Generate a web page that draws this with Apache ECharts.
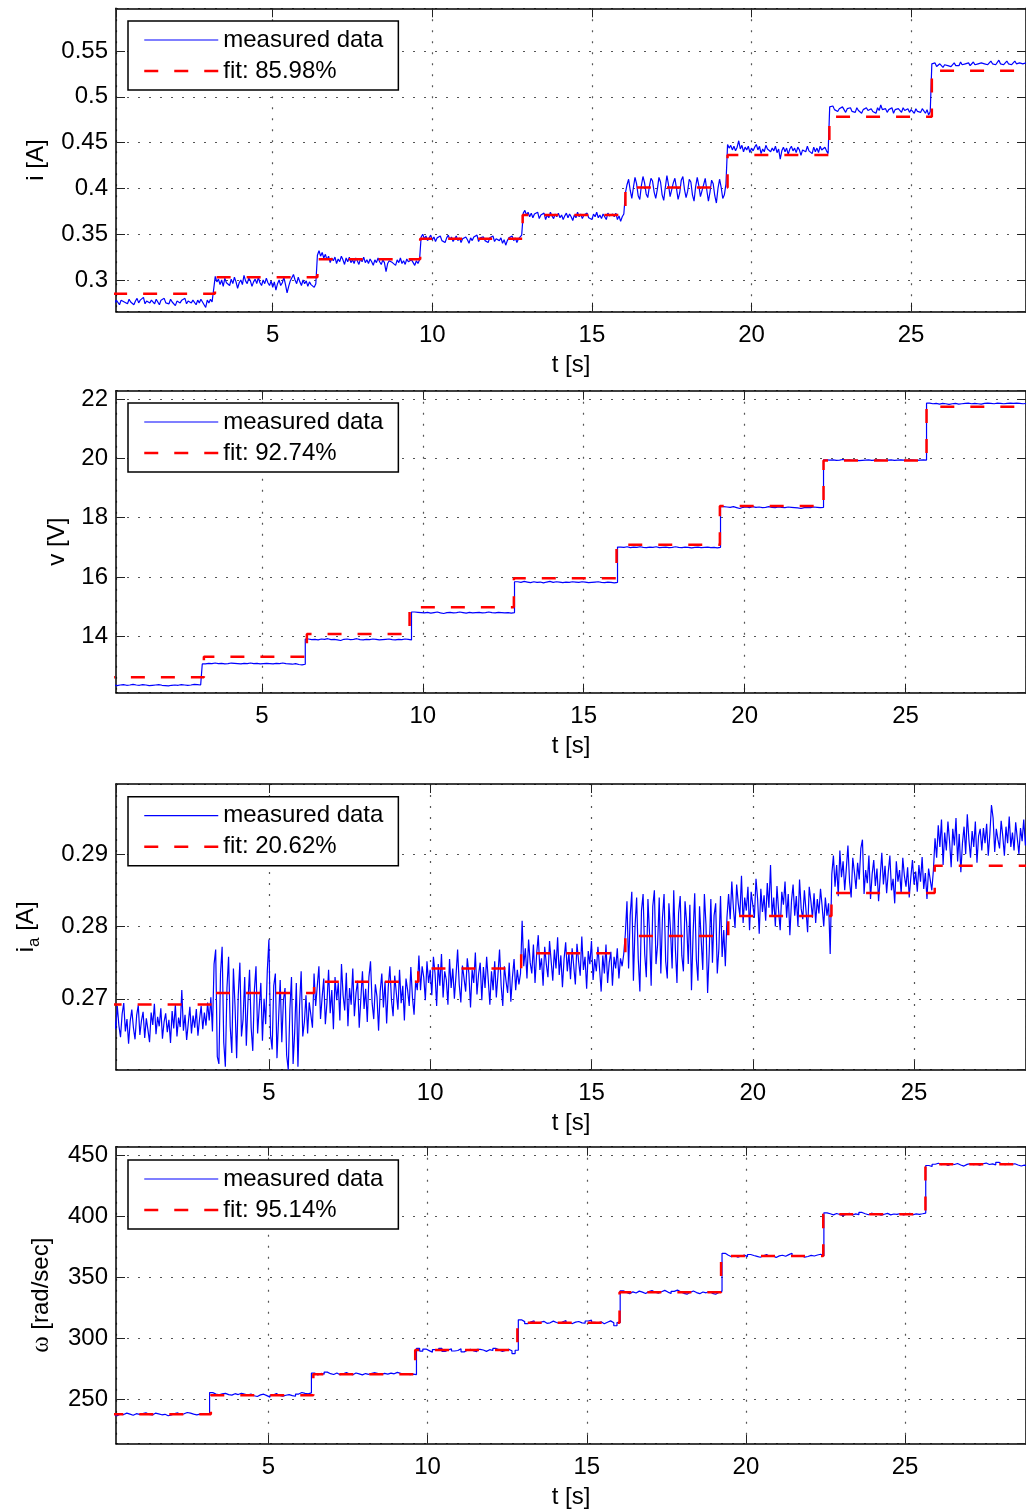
<!DOCTYPE html>
<html><head><meta charset="utf-8">
<script src="https://cdn.jsdelivr.net/npm/echarts@6/dist/echarts.min.js"></script>
<style>html,body{margin:0;padding:0;background:#fff;overflow:hidden}#c{width:1026px;height:1512px}</style>
</head><body><div id="c"></div><script>
// sampling grids of the measured signals (s)
const T_START = 0;
const T_STEP_FINE = 0.05;   // panels 1 and 3
const T_STEP_COARSE = 0.1;  // panels 2 and 4

// ---- panel 1: current i [A]  (sampled every 0.05 s)
const iMeasured = [
0.279,0.275,0.278,0.276,0.273,0.278,0.280,0.276,0.277,0.274,0.279,0.276,0.278,0.273,0.277,0.280,
0.275,0.278,0.276,0.281,0.274,0.277,0.279,0.275,0.278,0.276,0.274,0.279,0.277,0.273,0.278,0.276,
0.280,0.275,0.277,0.274,0.279,0.276,0.278,0.272,0.277,0.279,0.275,0.278,0.276,0.280,0.274,0.277,
0.279,0.275,0.278,0.276,0.273,0.278,0.275,0.279,0.276,0.274,0.270,0.278,0.275,0.279,0.276,0.278,
0.304,0.298,0.301,0.295,0.300,0.293,0.302,0.297,0.299,0.294,0.301,0.296,0.303,0.298,0.291,0.297,
0.300,0.295,0.305,0.299,0.296,0.302,0.299,0.293,0.298,0.301,0.296,0.303,0.297,0.294,0.300,0.296,
0.302,0.297,0.294,0.299,0.292,0.298,0.289,0.296,0.300,0.294,0.297,0.303,0.295,0.286,0.293,0.299,
0.297,0.306,0.300,0.296,0.303,0.298,0.294,0.300,0.296,0.299,0.293,0.298,0.295,0.297,0.292,0.296,
0.327,0.332,0.326,0.330,0.324,0.328,0.322,0.326,0.319,0.324,0.321,0.325,0.318,0.323,0.320,0.326,
0.322,0.317,0.324,0.320,0.325,0.319,0.322,0.318,0.324,0.321,0.317,0.323,0.320,0.325,0.319,0.322,
0.318,0.323,0.320,0.316,0.322,0.319,0.324,0.320,0.317,0.322,0.319,0.309,0.318,0.321,0.323,0.319,
0.320,0.316,0.322,0.319,0.324,0.318,0.321,0.317,0.323,0.320,0.318,0.322,0.319,0.316,0.321,0.318,
0.322,
0.347,0.350,0.345,0.348,0.343,0.346,0.349,0.344,0.347,0.342,0.346,0.344,0.348,0.343,0.345,0.341,
0.346,0.349,0.344,0.347,0.342,0.345,0.348,0.343,0.346,0.341,0.345,0.343,0.347,0.344,0.340,0.346,
0.343,0.347,0.345,0.349,0.342,0.346,0.344,0.347,0.343,0.345,0.341,0.346,0.344,0.348,0.342,0.345,
0.347,0.343,0.346,0.340,0.344,0.338,0.343,0.346,0.344,0.348,0.343,0.346,0.341,0.345,0.347,0.349,
0.373,0.376,0.371,0.374,0.369,0.373,0.368,0.372,0.370,0.374,0.367,0.371,0.369,0.373,0.366,0.371,
0.368,0.374,0.370,0.367,0.372,0.369,0.373,0.368,0.371,0.366,0.370,0.373,0.368,0.372,0.369,0.365,
0.371,0.368,0.374,0.369,0.372,0.367,0.371,0.369,0.373,0.368,0.370,0.366,0.372,0.369,0.374,0.368,
0.371,0.367,0.372,0.369,0.366,0.373,0.370,0.368,0.372,0.369,0.373,0.366,0.370,0.364,0.369,0.372,
0.395,0.404,0.410,0.398,0.389,0.401,0.412,0.405,0.392,0.388,0.403,0.413,0.406,0.394,0.390,0.402,
0.411,0.408,0.396,0.389,0.399,0.412,0.407,0.393,0.387,0.401,0.414,0.404,0.391,0.392,0.406,0.411,
0.400,0.388,0.395,0.409,0.413,0.399,0.390,0.397,0.410,0.407,0.393,0.386,0.402,0.412,0.403,0.391,
0.389,0.404,0.411,0.398,0.386,0.396,0.409,0.405,0.392,0.384,0.400,0.410,0.401,0.389,0.393,0.405,
0.448,0.444,0.447,0.442,0.446,0.441,0.445,0.452,0.443,0.447,0.440,0.445,0.442,0.446,0.439,0.444,
0.441,0.445,0.448,0.442,0.446,0.438,0.443,0.440,0.447,0.443,0.445,0.440,0.444,0.441,0.446,0.439,
0.443,0.432,0.441,0.445,0.440,0.444,0.437,0.443,0.446,0.441,0.444,0.439,0.445,0.442,0.436,0.442,
0.444,0.440,0.446,0.441,0.443,0.438,0.445,0.440,0.444,0.439,0.446,0.442,0.440,0.445,0.441,0.438,
0.489,0.487,0.490,0.486,0.488,0.484,0.487,0.485,0.489,0.486,0.483,0.487,0.485,0.488,0.484,0.486,
0.483,0.488,0.485,0.487,0.482,0.486,0.484,0.488,0.485,0.483,0.487,0.484,0.486,0.482,0.488,0.485,
0.491,0.486,0.484,0.487,0.483,0.486,0.485,0.488,0.482,0.486,0.484,0.487,0.485,0.483,0.488,0.485,
0.484,0.487,0.483,0.486,0.485,0.482,0.487,0.484,0.486,0.483,0.487,0.485,0.482,0.486,0.480,0.484,
0.536,0.534,0.537,0.533,0.535,0.536,0.534,0.532,0.535,0.537,0.534,0.536,0.533,0.535,0.537,0.534,
0.536,0.534,0.538,0.535,0.533,0.536,0.535,0.537,0.534,0.536,0.538,0.535,0.537,0.536,0.534,0.537,
0.539,0.536,0.538,0.535,0.537,0.539,0.536,0.538,0.535,0.537,0.540,0.536,0.538,0.535,0.537,0.539,
0.536,0.538,0.535,0.537,0.539,0.536,0.538,0.537,0.539,0.536,0.538,0.537,0.540,0.536,0.538,0.537
];
const iFitTimes = [0, 3.19, 6.40, 9.62, 12.83, 16.05, 19.25, 22.44, 25.65, 28.8];
const iFitLevels = [0.285, 0.303, 0.3226, 0.345, 0.371, 0.401, 0.4365, 0.4783, 0.5285];

// ---- panel 2: voltage v [V]  (sampled every 0.1 s)
const vMeasured = [
12.37,12.35,12.36,12.38,12.36,12.34,12.36,12.37,12.35,12.36,12.38,12.36,12.35,12.37,12.36,12.34,12.35,12.36,12.37,12.35,12.34,12.33,12.35,12.36,12.35,12.37,12.36,12.35,12.36,12.38,12.37,12.36,
13.07,13.09,13.08,13.10,13.08,13.09,13.07,13.08,13.10,13.09,13.08,13.07,13.09,13.08,13.10,13.08,13.09,13.07,13.08,13.09,13.08,13.07,13.09,13.08,13.10,13.08,13.07,13.06,13.08,13.05,13.04,13.06,
13.91,13.89,13.90,13.88,13.91,13.90,13.92,13.89,13.90,13.88,13.86,13.90,13.91,13.89,13.90,13.92,13.89,13.88,13.90,13.89,13.91,13.90,13.88,13.89,13.90,13.91,13.89,13.88,13.90,13.89,13.91,13.90,13.88,
14.82,14.81,14.80,14.79,14.81,14.78,14.80,14.82,14.79,14.77,14.80,14.81,14.79,14.80,14.82,14.80,14.78,14.81,14.79,14.80,14.81,14.79,14.80,14.82,14.80,14.79,14.81,14.80,14.79,14.80,14.78,14.80,
15.84,15.82,15.85,15.83,15.81,15.84,15.82,15.83,15.80,15.83,15.85,15.82,15.84,15.83,15.81,15.83,15.82,15.84,15.83,15.82,15.84,15.83,15.81,15.82,15.83,15.84,15.82,15.81,15.83,15.82,15.80,15.82,
17.01,17.00,17.02,16.99,17.01,17.00,17.02,17.00,16.99,17.01,17.00,17.02,16.99,17.00,17.01,16.99,17.00,17.02,17.00,16.99,17.01,17.00,16.98,17.00,17.01,16.99,17.00,17.01,16.99,17.00,16.98,17.00,
18.37,18.36,18.35,18.37,18.34,18.31,18.35,18.36,18.34,18.37,18.35,18.36,18.34,18.35,18.37,18.35,18.34,18.36,18.35,18.34,18.36,18.35,18.34,18.33,18.31,18.34,18.35,18.34,18.36,18.35,18.34,18.35,
19.95,19.94,19.95,19.93,19.94,19.96,19.94,19.95,19.93,19.94,19.92,19.93,19.94,19.95,19.93,19.94,19.95,19.94,19.93,19.94,19.95,19.93,19.94,19.95,19.94,19.93,19.95,19.94,19.93,19.94,19.95,19.94,
21.86,21.84,21.85,21.83,21.85,21.84,21.82,21.84,21.85,21.83,21.84,21.85,21.86,21.84,21.85,21.84,21.83,21.85,21.86,21.85,21.84,21.86,21.85,21.84,21.85,21.86,21.85,21.86,21.85,21.84,21.85,21.86
];
const vFitTimes = [0, 3.20, 6.40, 9.59, 12.83, 16.02, 19.23, 22.45, 25.65, 28.8];
const vFitLevels = [12.62, 13.31, 14.08, 14.98, 15.96, 17.09, 18.39, 19.93, 21.74];

// ---- panel 3: armature current i_a [A]  (sampled every 0.05 s)
const iaMeasured = [
0.2652,0.2684,0.2667,0.2641,0.2676,0.2658,0.2690,0.2663,0.2647,0.2679,0.2694,0.2655,0.2672,0.2638,0.2669,0.2685,
0.2660,0.2644,0.2677,0.2691,0.2650,0.2670,0.2682,0.2646,0.2673,0.2657,0.2640,0.2681,0.2664,0.2693,0.2651,0.2675,
0.2662,0.2687,0.2645,0.2668,0.2680,0.2654,0.2671,0.2639,0.2683,0.2659,0.2692,0.2648,0.2674,0.2661,0.2712,0.2656,
0.2678,0.2643,0.2666,0.2689,0.2652,0.2677,0.2660,0.2686,0.2649,0.2672,0.2690,0.2658,0.2681,0.2663,0.2695,0.2670,
0.2702,0.2655,0.2748,0.2768,0.2620,0.2610,0.2735,0.2772,0.2640,0.2606,0.2715,0.2758,0.2662,0.2625,0.2742,0.2690,
0.2618,0.2705,0.2750,0.2648,0.2672,0.2730,0.2635,0.2695,0.2740,0.2660,0.2628,0.2712,0.2745,0.2652,0.2688,0.2722,
0.2642,0.2700,0.2665,0.2738,0.2782,0.2650,0.2630,0.2718,0.2735,0.2618,0.2672,0.2726,0.2640,0.2698,0.2715,0.2622,
0.2602,0.2685,0.2730,0.2610,0.2655,0.2722,0.2606,0.2690,0.2738,0.2648,0.2668,0.2705,0.2652,0.2695,0.2678,0.2660,
0.2735,0.2690,0.2718,0.2745,0.2672,0.2702,0.2728,0.2665,0.2695,0.2740,0.2680,0.2712,0.2658,0.2730,0.2698,0.2722,
0.2670,0.2748,0.2705,0.2684,0.2736,0.2662,0.2715,0.2692,0.2742,0.2676,0.2708,0.2725,0.2660,0.2700,0.2738,0.2686,
0.2714,0.2668,0.2730,0.2752,0.2694,0.2672,0.2720,0.2703,0.2656,0.2710,0.2735,0.2688,0.2724,0.2666,0.2716,0.2745,
0.2698,0.2676,0.2732,0.2708,0.2685,0.2740,0.2694,0.2718,0.2670,0.2728,0.2712,0.2690,0.2744,0.2702,0.2678,0.2725,
0.2712,
0.2760,0.2712,0.2745,0.2730,0.2698,0.2752,0.2722,0.2740,0.2705,0.2758,0.2735,0.2690,0.2748,0.2718,0.2762,0.2702,
0.2738,0.2726,0.2692,0.2755,0.2715,0.2742,0.2700,0.2732,0.2768,0.2720,0.2695,0.2746,0.2728,0.2710,0.2756,0.2735,
0.2688,0.2740,0.2722,0.2764,0.2706,0.2734,0.2750,0.2698,0.2744,0.2715,0.2758,0.2726,0.2692,0.2738,0.2712,0.2752,
0.2702,0.2733,0.2768,0.2718,0.2690,0.2745,0.2725,0.2708,0.2750,0.2696,0.2730,0.2755,0.2712,0.2740,0.2720,0.2735,
0.2808,0.2745,0.2770,0.2728,0.2782,0.2750,0.2735,0.2775,0.2722,0.2762,0.2788,0.2740,0.2756,0.2718,0.2772,0.2748,
0.2730,0.2780,0.2752,0.2725,0.2768,0.2742,0.2785,0.2733,0.2760,0.2716,0.2755,0.2778,0.2738,0.2764,0.2727,0.2770,
0.2745,0.2720,0.2776,0.2752,0.2732,0.2786,0.2740,0.2758,0.2714,0.2766,0.2748,0.2780,0.2726,0.2755,0.2738,0.2772,
0.2742,0.2710,0.2760,0.2735,0.2775,0.2722,0.2750,0.2765,0.2718,0.2758,0.2742,0.2770,0.2728,0.2756,0.2745,0.2762,
0.2790,0.2835,0.2742,0.2815,0.2848,0.2725,0.2800,0.2840,0.2755,0.2710,0.2822,0.2845,0.2762,0.2730,0.2838,0.2790,
0.2718,0.2828,0.2850,0.2748,0.2775,0.2840,0.2735,0.2812,0.2845,0.2752,0.2728,0.2832,0.2795,0.2742,0.2850,0.2770,
0.2722,0.2818,0.2842,0.2760,0.2738,0.2835,0.2805,0.2748,0.2830,0.2712,0.2790,0.2846,0.2755,0.2725,0.2828,0.2782,
0.2740,0.2845,0.2802,0.2708,0.2765,0.2838,0.2750,0.2815,0.2832,0.2735,0.2770,0.2842,0.2758,0.2795,0.2745,0.2812,
0.2845,0.2810,0.2862,0.2825,0.2798,0.2858,0.2832,0.2815,0.2870,0.2805,0.2840,0.2822,0.2855,0.2795,0.2848,0.2830,
0.2812,0.2866,0.2838,0.2790,0.2852,0.2820,0.2843,0.2808,0.2860,0.2826,0.2885,0.2815,0.2840,0.2800,0.2856,0.2822,
0.2795,0.2848,0.2830,0.2862,0.2812,0.2845,0.2788,0.2835,0.2858,0.2815,0.2842,0.2800,0.2865,0.2825,0.2810,0.2850,
0.2822,0.2792,0.2855,0.2836,0.2812,0.2846,0.2805,0.2838,0.2818,0.2852,0.2828,0.2800,0.2840,0.2815,0.2832,0.2762,
0.2872,0.2898,0.2855,0.2885,0.2842,0.2905,0.2868,0.2890,0.2850,0.2880,0.2912,0.2862,0.2840,0.2895,0.2875,0.2852,
0.2888,0.2865,0.2908,0.2920,0.2845,0.2878,0.2860,0.2898,0.2838,0.2872,0.2892,0.2856,0.2880,0.2835,0.2868,0.2902,
0.2858,0.2884,0.2846,0.2875,0.2898,0.2850,0.2866,0.2832,0.2890,0.2862,0.2878,0.2845,0.2895,0.2870,0.2855,0.2882,
0.2840,0.2868,0.2892,0.2858,0.2876,0.2848,0.2885,0.2862,0.2896,0.2852,0.2874,0.2838,0.2880,0.2865,0.2850,0.2878,
0.2922,0.2895,0.2940,0.2910,0.2948,0.2885,0.2930,0.2905,0.2945,0.2918,0.2882,0.2935,0.2912,0.2950,0.2890,0.2928,
0.2875,0.2915,0.2938,0.2900,0.2955,0.2920,0.2895,0.2932,0.2910,0.2945,0.2888,0.2925,0.2935,0.2905,0.2936,0.2915,
0.2942,0.2898,0.2928,0.2968,0.2950,0.2903,0.2935,0.2920,0.2908,0.2946,0.2925,0.2898,0.2938,0.2915,0.2952,0.2910,
0.2930,0.2905,0.2944,0.2922,0.2900,0.2936,0.2918,0.2948,0.2912,0.2932,0.2905,0.2940,0.2925,0.2915,0.2938,0.2920
];
const iaFitTimes = [0, 3.25, 6.40, 9.63, 12.82, 16.05, 19.24, 22.44, 25.64, 28.8];
const iaFitLevels = [0.2692, 0.2708, 0.27235, 0.2742, 0.2763, 0.2787, 0.28144, 0.28462, 0.2884];

// ---- panel 4: angular speed omega [rad/sec]  (sampled every 0.1 s)
const wMeasured = [
237.5,238.8,236.9,238.2,237.8,239.0,238.1,237.2,238.5,237.9,238.6,239.3,238.0,237.4,238.9,238.3,237.6,238.0,236.8,237.5,238.6,239.1,238.0,238.4,239.5,239.0,238.2,237.6,238.1,237.9,238.5,238.6,
255.8,254.6,253.9,254.8,255.2,254.1,253.7,254.9,254.2,255.3,254.5,253.8,254.6,253.2,252.6,253.9,254.5,253.3,252.1,253.8,255.0,253.5,252.9,253.6,254.1,253.3,252.8,254.6,255.9,255.2,254.7,255.6,
271.8,270.2,271.5,270.9,272.6,271.3,270.6,271.8,270.4,271.2,272.3,271.0,270.5,271.9,271.2,270.3,271.4,270.8,271.6,272.1,271.3,270.7,271.5,270.9,271.8,271.2,272.4,271.6,270.8,271.3,270.5,271.0,270.6,
292.0,289.8,291.5,290.2,288.8,291.0,290.4,292.1,289.5,290.8,291.6,289.9,290.3,291.8,289.2,290.6,291.3,290.0,289.4,291.2,290.7,289.6,291.0,290.3,292.0,290.8,289.5,290.4,291.2,290.1,287.8,290.5,
315.5,314.0,312.3,313.8,314.6,312.9,313.5,314.2,312.6,313.0,314.4,313.3,312.5,313.9,314.8,313.1,312.4,313.6,314.1,313.0,312.7,314.5,315.2,313.4,312.9,313.8,312.2,313.5,314.6,313.0,310.6,313.2,
339.2,338.0,336.8,338.4,337.5,339.0,338.2,337.1,338.6,339.4,338.1,337.3,338.5,339.6,338.2,337.0,338.8,339.8,338.4,337.2,336.5,338.0,339.1,337.8,336.9,338.3,337.6,338.7,337.2,336.4,337.9,339.0,
370.0,368.4,367.2,368.0,366.9,367.8,368.5,367.3,369.0,368.2,367.5,366.8,368.0,368.9,367.4,368.1,366.6,367.9,368.4,367.6,368.9,370.1,368.2,367.5,368.0,366.9,367.4,368.3,367.8,368.6,369.2,367.8,
403.2,402.4,401.5,402.6,401.8,400.9,402.1,402.8,401.4,402.3,401.7,403.5,402.4,401.6,402.9,401.8,402.3,401.2,402.0,402.7,401.5,402.2,401.9,402.6,401.4,402.1,402.8,401.6,402.3,401.9,402.4,403.0,
442.0,441.2,443.0,443.8,442.6,443.4,442.1,443.2,442.8,443.6,442.4,441.5,442.9,443.5,442.7,443.1,442.2,443.4,444.0,442.8,443.3,442.5,444.6,443.0,442.6,443.8,442.9,443.4,442.4,441.6,442.3,441.8
];
const wFitTimes = [0, 3.19, 6.41, 9.61, 12.82, 16.03, 19.22, 22.43, 25.64, 28.8];
const wFitLevels = [238.0, 253.6, 270.8, 290.7, 313.1, 338.0, 367.8, 402.0, 443.0];

// axis ranges / tick steps
const xStep = 5;
const panelRanges = [
  {xMin: 0.09, xMax: 28.60, yMin: 0.2654, yMax: 0.5966, yStep: 0.05},
  {xMin: 0.47, xMax: 28.74, yMin: 12.10, yMax: 22.28, yStep: 2},
  {xMin: 0.26, xMax: 28.47, yMin: 0.2602, yMax: 0.2997, yStep: 0.01},
  {xMin: 0.21, xMax: 28.80, yMin: 213.9, yMax: 457.4, yStep: 50}
];
const fitNames = ['fit: 85.98%', 'fit: 92.74%', 'fit: 20.62%', 'fit: 95.14%'];
const measuredName = 'measured data';
const xName = 't [s]';

const FONT = 'Liberation Sans';
const TXT = {fontFamily: FONT, fontSize: 24, color: '#000'};

const panels = [
  {meas: iMeasured, dt: T_STEP_FINE, fitT: iFitTimes, fitV: iFitLevels, yName: 'i [A]', rich: null, step: false,
   top: 8.3, height: 303.4, legendTop: 21, nameGap: 68},
  {meas: vMeasured, dt: T_STEP_COARSE, fitT: vFitTimes, fitV: vFitLevels, yName: 'v [V]', rich: null, step: 'middle',
   top: 390.7, height: 302, legendTop: 403, nameGap: 47},
  {meas: iaMeasured, dt: T_STEP_FINE, fitT: iaFitTimes, fitV: iaFitLevels, yName: '{m|i}{s|a}{m| [A]}', step: false,
   rich: {m: {fontFamily: FONT, fontSize: 24, color: '#000', lineHeight: 24, verticalAlign: 'top'},
          s: {fontFamily: FONT, fontSize: 17, color: '#000', lineHeight: 41}},
   top: 784, height: 285.7, legendTop: 796.7, nameGap: 61},
  {meas: wMeasured, dt: T_STEP_COARSE, fitT: wFitTimes, fitV: wFitLevels, yName: '{g|ω}{m| [rad/sec]}', step: 'middle',
   rich: {g: {fontFamily: 'Liberation Serif', fontSize: 25, color: '#000'},
          m: {fontFamily: FONT, fontSize: 24, color: '#000'}},
   top: 1146.7, height: 297, legendTop: 1160, nameGap: 62}
];

const splitStyle = {show: true, lineStyle: {color: '#555', width: 1.2, type: [2, 9]}};
const axisLineStyle = {onZero: false, lineStyle: {color: '#000', width: 1.5}};
const tickStyle = {inside: true, length: 9, lineStyle: {color: '#222', width: 1}};

const option = {animation: false, backgroundColor: '#fff', grid: [], xAxis: [], yAxis: [], series: [], legend: []};

panels.forEach((p, k) => {
  const r = panelRanges[k];
  option.grid.push({left: 116, width: 913, top: p.top, height: p.height});
  const xc = {type: 'value', gridIndex: k, min: r.xMin, max: r.xMax, splitNumber: 6, minInterval: xStep, maxInterval: xStep};
  option.xAxis.push(Object.assign({}, xc, {
    position: 'bottom', name: xName, nameLocation: 'middle', nameGap: 42, nameTextStyle: TXT,
    axisLine: axisLineStyle, axisTick: tickStyle,
    axisLabel: Object.assign({margin: 12, showMinLabel: false, showMaxLabel: false}, TXT),
    splitLine: splitStyle
  }));
  option.xAxis.push(Object.assign({}, xc, {
    position: 'top', axisLine: axisLineStyle, axisTick: tickStyle, axisLabel: {show: false}, splitLine: {show: false}
  }));
  const yc = {type: 'value', gridIndex: k, min: r.yMin, max: r.yMax, splitNumber: 5, minInterval: r.yStep, maxInterval: r.yStep};
  const nts = Object.assign({}, TXT);
  if (p.rich) nts.rich = p.rich;
  option.yAxis.push(Object.assign({}, yc, {
    position: 'left', name: p.yName, nameLocation: 'middle', nameGap: p.nameGap, nameTextStyle: nts,
    axisLine: axisLineStyle, axisTick: tickStyle,
    axisLabel: Object.assign({margin: 8, showMinLabel: false, showMaxLabel: false}, TXT),
    splitLine: splitStyle
  }));
  option.yAxis.push(Object.assign({}, yc, {
    position: 'right', axisLine: axisLineStyle, axisTick: tickStyle, axisLabel: {show: false}, splitLine: {show: false}
  }));
  option.series.push({
    type: 'line', name: measuredName, xAxisIndex: 2 * k, yAxisIndex: 2 * k,
    data: p.meas.map((v, i) => [T_START + i * p.dt, v]),
    symbol: 'none', step: p.step, clip: true,
    lineStyle: {color: '#0000ff', width: 1.2}, itemStyle: {color: '#0000ff'}, z: 2
  });
  option.series.push({
    type: 'line', name: fitNames[k], xAxisIndex: 2 * k, yAxisIndex: 2 * k,
    data: p.fitT.map((t, j) => [t, p.fitV[Math.min(j, p.fitV.length - 1)]]),
    symbol: 'none', step: 'end', clip: true,
    lineStyle: {color: '#ff0000', width: 2.5, type: [14, 16]}, itemStyle: {color: '#ff0000'}, z: 3
  });
  option.legend.push({
    left: 128, top: p.legendTop, orient: 'vertical', itemWidth: 74, itemHeight: 14, itemGap: 7,
    padding: [7, 15, 7, 15], borderColor: '#000', borderWidth: 1.5, backgroundColor: '#fff',
    selectedMode: false, textStyle: TXT, itemStyle: {opacity: 0},
    data: [{name: measuredName, lineStyle: {width: 1.2}}, {name: fitNames[k], lineStyle: {width: 2.5}}]
  });
});

const chart = echarts.init(document.getElementById('c'), null, {renderer: 'canvas'});
chart.setOption(option);
</script></body></html>
